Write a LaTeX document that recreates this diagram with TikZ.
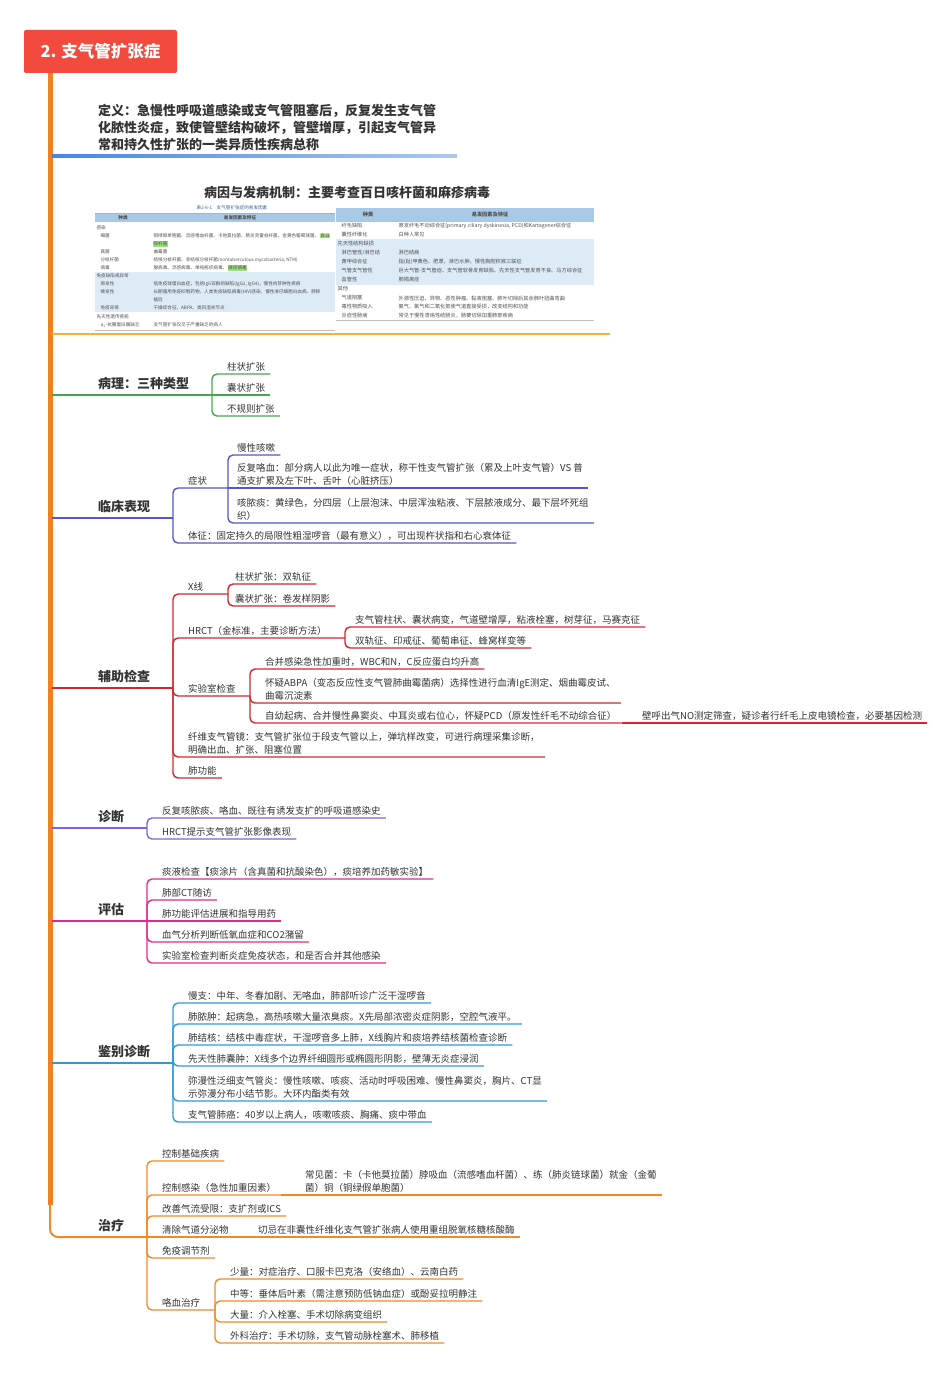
\documentclass[tikz,border=0pt]{standalone}
\usepackage{fontspec}
\setmainfont{Noto Sans CJK SC}
\usetikzlibrary{positioning}

\definecolor{titlered}{HTML}{F24A3D}
\definecolor{trunkorange}{HTML}{F57F20}
\definecolor{defblue}{HTML}{4A86DE}
\definecolor{etioyellow}{HTML}{F2B52A}
\definecolor{pathgreen}{HTML}{43A94E}
\definecolor{clinblue}{HTML}{5257C9}
\definecolor{auxred}{HTML}{D3262E}
\definecolor{diagpurple}{HTML}{7D63E6}
\definecolor{evalpink}{HTML}{DE2A90}
\definecolor{diffblue}{HTML}{2E9ADA}
\definecolor{treatorange}{HTML}{F08A25}
\definecolor{txtgray}{HTML}{333333}
\definecolor{tabhead}{HTML}{A8CAE6}
\definecolor{tabband}{HTML}{DDEBF6}
\definecolor{tabtext}{HTML}{505050}
\definecolor{hlgreen}{HTML}{9BE07A}

\tikzset{
  topic/.style={anchor=base west, inner sep=0pt, text=txtgray, font=\fontsize{13}{17}\selectfont\bfseries},
  leaf/.style={anchor=south west, inner xsep=5pt, inner ysep=2.6pt, text=txtgray, align=left, font=\fontsize{9.5}{13}\selectfont},
  mainline/.style={line width=2pt},
  link/.style={line width=1.4pt, rounded corners=5pt},
  tabtxt/.style={anchor=west, inner sep=0.4pt, text=tabtext, font=\fontsize{4.6}{5.5}\selectfont},
  rtabtxt/.style={tabtxt, font=\fontsize{5.2}{6}\selectfont},
}

\begin{document}
\begin{tikzpicture}[x=1pt,y=-1pt]
    \useasboundingbox (0,0) rectangle (950,1375);

    % Trunk and title
    \coordinate (trunk top) at (50,60);
    \coordinate (trunk bot) at (50,1205);
    \draw[trunkorange, line width=5pt] (trunk top) -- (trunk bot);
    \node[fill=titlered, rounded corners=2pt, minimum width=153pt, minimum height=43pt,
          text=white, font=\fontsize{16.5}{20}\selectfont\bfseries] (title) at (100.5,51.5) {2. 支气管扩张症};

    % Definition
    \node[anchor=north west, inner sep=0pt, align=left, text=txtgray,
          font=\fontsize{13}{17}\selectfont\bfseries] (defn) at (98,103.5)
        {定义：急慢性呼吸道感染或支气管阻塞后，反复发生支气管\\化脓性炎症，致使管壁结构破坏，管壁增厚，引起支气管异\\常和持久性扩张的一类异质性疾病总称};
    \shade[left color=defblue, right color=defblue!45] (52,155) rectangle (457,157.5);

    % Etiology with the table picture
    \node[inner sep=0pt, text=txtgray, font=\fontsize{13}{17}\selectfont\bfseries] (etio) at (347,193)
        {病因与发病机制：主要考查百日咳杆菌和麻疹病毒};
    \draw[etioyellow, mainline] (52,334) -- (610,334);

    % left table
    \fill[tabhead] (95,213) rectangle (335,222);
    \fill[tabband] (95,271.5) rectangle (335,312);
    \draw[defblue!60, line width=0.4pt] (95,213) -- (335,213);
    \draw[gray!50, line width=0.4pt] (95,330) -- (335,330);
    \node[tabtxt, anchor=center, text=defblue!70!black] (ltcap) at (232,208) {表2-6-1\quad 支气管扩张症的易发因素};
    \node[tabtxt, anchor=center] (lth1) at (123,217.5) {\bfseries 种类};
    \node[tabtxt, anchor=center] (lth2) at (240,217.5) {\bfseries 易发因素及特征};
    \node[tabtxt] (lt1) at (96,228) {感染};
    \node[tabtxt] (lt2a) at (100,236) {细菌};
    \node[tabtxt] (lt2b) at (153,236) {铜绿假单胞菌、流感嗜血杆菌、卡他莫拉菌、肺炎克雷伯杆菌、金黄色葡萄球菌、};
    \node[tabtxt, fill=hlgreen, right=0pt of lt2b] (lt2c) {百日};
    \node[tabtxt, fill=hlgreen] (lt3) at (153,244) {咳杆菌};
    \node[tabtxt] (lt4a) at (100,252) {真菌};
    \node[tabtxt] (lt4b) at (153,252) {曲霉菌};
    \node[tabtxt] (lt5a) at (100,260) {分枝杆菌};
    \node[tabtxt] (lt5b) at (153,260) {结核分枝杆菌、非结核分枝杆菌(nontuberculous mycobacteria, NTM)};
    \node[tabtxt] (lt6a) at (100,268) {病毒};
    \node[tabtxt] (lt6b) at (153,268) {腺病毒、流感病毒、单纯疱疹病毒、};
    \node[tabtxt, fill=hlgreen, right=0pt of lt6b] (lt6c) {麻疹病毒};
    \node[tabtxt] (lt7) at (96,276) {免疫缺陷或异常};
    \node[tabtxt] (lt8a) at (100,284) {原发性};
    \node[tabtxt] (lt8b) at (153,284) {低免疫球蛋白血症，包括IgG亚群的缺陷(IgG2, IgG4)，慢性肉芽肿性疾病};
    \node[tabtxt] (lt9a) at (100,292) {继发性};
    \node[tabtxt] (lt9b) at (153,292) {长期服用免疫抑制药物、人类免疫缺陷病毒(HIV)感染、慢性淋巴细胞白血病、肺移};
    \node[tabtxt] (lt10) at (153,300) {植后};
    \node[tabtxt] (lt11a) at (100,308) {免疫异常};
    \node[tabtxt] (lt11b) at (153,308) {干燥综合征、ABPA、类风湿关节炎};
    \node[tabtxt] (lt12) at (96,317) {先天性遗传疾病};
    \node[tabtxt] (lt13a) at (100,325) {α\textsubscript{1}-抗胰蛋白酶缺乏};
    \node[tabtxt] (lt13b) at (153,325) {支气管扩张仅见于严重缺乏的病人};

    % right table
    \fill[tabhead] (336,208) rectangle (594,222);
    \fill[tabband] (336,239) rectangle (594,285);
    \draw[gray!50, line width=0.4pt] (336,320.5) -- (594,320.5);
    \node[rtabtxt, anchor=center] (rth1) at (368,215) {\bfseries 种类};
    \node[rtabtxt, anchor=center] (rth2) at (490,215) {\bfseries 易发因素及特征};
    \node[rtabtxt] (rt1a) at (341,226) {纤毛缺陷};
    \node[rtabtxt] (rt1b) at (398,226) {原发纤毛不动综合征(primary ciliary dyskinesia, PCD)和Kartagener综合征};
    \node[rtabtxt] (rt2a) at (341,235) {囊性纤维化};
    \node[rtabtxt] (rt2b) at (398,235) {白种人常见};
    \node[rtabtxt] (rt3) at (337,244) {先天性结构缺损};
    \node[rtabtxt] (rt4a) at (341,253) {淋巴管性/淋巴结};
    \node[rtabtxt] (rt4b) at (398,253) {淋巴结病};
    \node[rtabtxt] (rt5a) at (341,262) {黄甲综合征};
    \node[rtabtxt] (rt5b) at (398,262) {指(趾)甲黄色、肥厚，淋巴水肿，慢性胸腔积液三联征};
    \node[rtabtxt] (rt6a) at (341,271) {气管支气管性};
    \node[rtabtxt] (rt6b) at (398,271) {巨大气管-支气管症、支气管软骨发育缺陷、先天性支气管发育不良、马方综合征};
    \node[rtabtxt] (rt7a) at (341,280) {血管性};
    \node[rtabtxt] (rt7b) at (398,280) {肺隔离症};
    \node[rtabtxt] (rt8) at (337,289) {其他};
    \node[rtabtxt] (rt9a) at (341,298) {气道阻塞};
    \node[rtabtxt] (rt9b) at (398,298) {外源性压迫、异物、恶性肿瘤、黏液阻塞、肺叶切除后其余肺叶扭曲弯曲};
    \node[rtabtxt] (rt10a) at (341,307) {毒性物质吸入};
    \node[rtabtxt] (rt10b) at (398,307) {氨气、氯气和二氧化氮使气道直接受损，改变结构和功能};
    \node[rtabtxt] (rt11a) at (341,316) {炎症性肠病};
    \node[rtabtxt] (rt11b) at (398,316) {常见于慢性溃疡性结肠炎，肠梗切除加重肺部疾病};

    % Pathology
    \node[topic] (path) at (98,388) {病理：三种类型};
    \coordinate (path-j) at (212,395);
    \draw[pathgreen, mainline] (52,395) -- (path-j);
    \node[leaf] (p1) at (222,374) {柱状扩张};
    \node[leaf] (p2) at (222,395) {囊状扩张};
    \node[leaf] (p3) at (222,416) {不规则扩张};
    \draw[link, pathgreen] (path-j) |- (p1.south east);
    \draw[link, pathgreen] (path-j) -- (p2.south east);
    \draw[link, pathgreen] (path-j) |- (p3.south east);

    % Clinical manifestations
    \node[topic] (clin) at (98,511) {临床表现};
    \coordinate (clin-j) at (173,518);
    \draw[clinblue, mainline] (52,518) -- (clin-j);
    \node[leaf] (sym) at (183,488) {症状};
    \coordinate (sym-j) at (228,488);
    \node[leaf] (sym1) at (232,455) {慢性咳嗽};
    \node[leaf] (sym2) at (232,488) {反复咯血：部分病人以此为唯一症状，称干性支气管扩张（累及上叶支气管）VS 普\\通支扩累及左下叶、舌叶（心脏挤压）};
    \node[leaf] (sym3) at (232,523) {咳脓痰：黄绿色，分四层（上层泡沫、中层浑浊粘液、下层脓液成分、最下层坏死组\\织）};
    \node[leaf] (sign) at (183,543) {体征：固定持久的局限性粗湿啰音（最有意义），可出现杵状指和右心衰体征};
    \draw[link, clinblue] (clin-j) |- (sym-j);
    \draw[link, clinblue] (clin-j) |- (sign.south east);
    \draw[link, clinblue] (sym-j) |- (sym1.south east);
    \draw[link, clinblue] (sym-j) -- (sym2.south east);
    \draw[link, clinblue] (sym-j) |- (sym3.south east);

    % Auxiliary examinations
    \node[topic] (aux) at (98,681) {辅助检查};
    \coordinate (aux-j) at (173,688);
    \draw[auxred, mainline] (52,688) -- (aux-j);
    \node[leaf] (xray) at (183,594) {X线};
    \coordinate (xray-j) at (228,594);
    \node[leaf] (xray1) at (230,584) {柱状扩张：双轨征};
    \node[leaf] (xray2) at (230,606) {囊状扩张：卷发样阴影};
    \node[leaf] (hrct) at (183,638) {HRCT（金标准，主要诊断方法）};
    \coordinate (hrct-j) at (345,638);
    \node[leaf] (hrct1) at (350,627) {支气管柱状、囊状病变，气道壁增厚，粘液栓塞，树芽征，马赛克征};
    \node[leaf] (hrct2) at (350,648) {双轨征、印戒征、葡萄串征、蜂窝样变等};
    \node[leaf] (lab) at (183,696) {实验室检查};
    \coordinate (lab-j) at (250,696);
    \node[leaf] (lab1) at (260,669) {合并感染急性加重时，WBC和N，C反应蛋白均升高};
    \node[leaf] (lab2) at (260,703) {怀疑ABPA（变态反应性支气管肺曲霉菌病）选择性进行血清IgE测定、烟曲霉皮试、\\曲霉沉淀素};
    \node[leaf] (lab3) at (260,723) {自幼起病、合并慢性鼻窦炎、中耳炎或右位心，怀疑PCD（原发性纤毛不动综合征）};
    \node[leaf] (lab31) at (637,723) {壁呼出气NO测定筛查，疑诊者行纤毛上皮电镜检查，必要基因检测};
    \node[leaf] (fob) at (183,757) {纤维支气管镜：支气管扩张位于段支气管以上，弹坑样改变，可进行病理采集诊断，\\明确出血、扩张、阻塞位置};
    \node[leaf] (pft) at (183,778) {肺功能};
    \draw[link, auxred] (aux-j) |- (xray-j);
    \draw[link, auxred] (aux-j) |- (hrct-j);
    \draw[link, auxred] (aux-j) |- (lab-j);
    \draw[link, auxred] (aux-j) |- (fob.south east);
    \draw[link, auxred] (aux-j) |- (pft.south east);
    \draw[link, auxred] (xray-j) |- (xray1.south east);
    \draw[link, auxred] (xray-j) |- (xray2.south east);
    \draw[link, auxred] (hrct-j) |- (hrct1.south east);
    \draw[link, auxred] (hrct-j) |- (hrct2.south east);
    \draw[link, auxred] (lab-j) |- (lab1.south east);
    \draw[link, auxred] (lab-j) |- (lab2.south east);
    \draw[link, auxred] (lab-j) |- (lab3.south east);
    \draw[link, auxred] (lab3.south east) -- (lab31.south east);

    % Diagnosis
    \node[topic] (diag) at (98,821) {诊断};
    \coordinate (diag-j) at (147,828);
    \draw[diagpurple, mainline] (52,828) -- (diag-j);
    \node[leaf] (diag1) at (157,818) {反复咳脓痰、咯血、既往有诱发支扩的呼吸道感染史};
    \node[leaf] (diag2) at (157,839) {HRCT提示支气管扩张影像表现};
    \draw[link, diagpurple] (diag-j) |- (diag1.south east);
    \draw[link, diagpurple] (diag-j) |- (diag2.south east);

    % Evaluation
    \node[topic] (eval) at (98,914) {评估};
    \coordinate (eval-j) at (147,921);
    \draw[evalpink, mainline] (52,921) -- (eval-j);
    \node[leaf] (eval1) at (157,879) {痰液检查【痰涂片（含真菌和抗酸染色），痰培养加药敏实验】};
    \node[leaf] (eval2) at (157,900) {肺部CT随访};
    \node[leaf] (eval3) at (157,921) {肺功能评估进展和指导用药};
    \node[leaf] (eval4) at (157,942) {血气分析判断低氧血症和CO2潴留};
    \node[leaf] (eval5) at (157,963) {实验室检查判断炎症免疫状态，和是否合并其他感染};
    \foreach \n in {eval1,eval2,eval4,eval5}
        \draw[link, evalpink] (eval-j) |- (\n.south east);
    \draw[link, evalpink] (eval-j) -- (eval3.south east);

    % Differential diagnosis
    \node[topic] (diff) at (98,1056) {鉴别诊断};
    \coordinate (diff-j) at (173,1063);
    \draw[diffblue, mainline] (52,1063) -- (diff-j);
    \node[leaf] (diff1) at (183,1003) {慢支：中年、冬春加剧、无咯血，肺部听诊广泛干湿啰音};
    \node[leaf] (diff2) at (183,1024) {肺脓肿：起病急，高热咳嗽大量浓臭痰。X先局部浓密炎症阴影，空腔气液平。};
    \node[leaf] (diff3) at (183,1045) {肺结核：结核中毒症状，干湿啰音多上肺，X线胸片和痰培养结核菌检查诊断};
    \node[leaf] (diff4) at (183,1066) {先天性肺囊肿：X线多个边界纤细圆形或椭圆形阴影，壁薄无炎症浸润};
    \node[leaf] (diff5) at (183,1101) {弥漫性泛细支气管炎：慢性咳嗽、咳痰、活动时呼吸困难、慢性鼻窦炎，胸片、CT显\\示弥漫分布小结节影。大环内酯类有效};
    \node[leaf] (diff6) at (183,1122) {支气管肺癌：40岁以上病人，咳嗽咳痰、胸痛、痰中带血};
    \foreach \n in {diff1,diff2,diff3,diff4,diff5,diff6}
        \draw[link, diffblue] (diff-j) |- (\n.south east);

    % Treatment
    \node[topic] (treat) at (98,1230) {治疗};
    \coordinate (treat-j) at (147,1237);
    \draw[treatorange, mainline, rounded corners=8pt] (trunk bot) |- (treat-j);
    \node[leaf] (t1) at (157,1161) {控制基础疾病};
    \node[leaf] (t2) at (157,1195) {控制感染（急性加重因素）};
    \node[leaf] (t21) at (300,1195) {常见菌：卡（卡他莫拉菌）脖吸血（流感嗜血杆菌）、练（肺炎链球菌）就金（金葡\\菌）铜（铜绿假单胞菌）};
    \node[leaf] (t3) at (157,1216) {改善气流受限：支扩剂或ICS};
    \node[leaf] (t4) at (157,1237) {清除气道分泌物};
    \node[leaf] (t41) at (253,1237) {切忌在非囊性纤维化支气管扩张病人使用重组脱氧核糖核酸酶};
    \node[leaf] (t5) at (157,1258) {免疫调节剂};
    \node[leaf] (t6) at (157,1310) {咯血治疗};
    \coordinate (t6-j) at (215,1310);
    \node[leaf] (t61) at (225,1279) {少量：对症治疗、口服卡巴克洛（安络血）、云南白药};
    \node[leaf] (t62) at (225,1301) {中等：垂体后叶素（需注意预防低钠血症）或酚妥拉明静注};
    \node[leaf] (t63) at (225,1322) {大量：介入栓塞、手术切除病变组织};
    \node[leaf] (t64) at (225,1343) {外科治疗：手术切除，支气管动脉栓塞术、肺移植};
    \foreach \n in {t1,t2,t3,t5}
        \draw[link, treatorange] (treat-j) |- (\n.south east);
    \draw[link, treatorange] (treat-j) -- (t4.south east);
    \draw[link, treatorange] (treat-j) |- (t6-j);
    \draw[link, treatorange] (t2.south east) -- (t21.south east);
    \draw[link, treatorange] (t4.south east) -- (t41.south east);
    \foreach \n in {t61,t62,t63,t64}
        \draw[link, treatorange] (t6-j) |- (\n.south east);
\end{tikzpicture}
\end{document}
